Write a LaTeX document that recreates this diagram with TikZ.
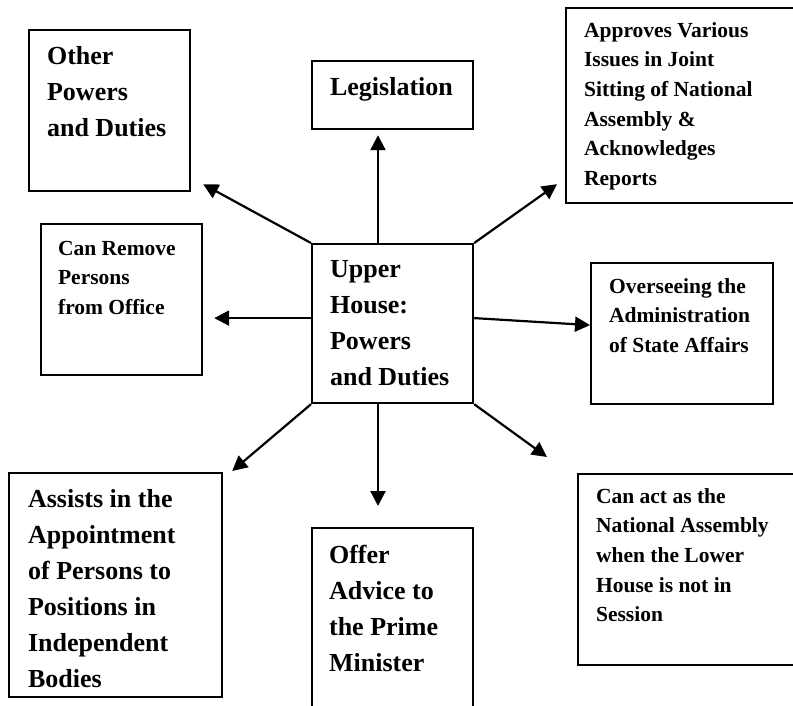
\documentclass[tikz,border=0pt]{standalone}
\usepackage{fontspec}
\setmainfont{Liberation Serif}
\usetikzlibrary{arrows.meta}
\newcommand{\bxtext}[6]{%
  \parbox[t][#2pt][t]{#1pt}{#5\raggedright\leftskip=#3pt\relax\rule{0pt}{#4pt}#6}}
\newcommand{\bigf}{\fontsize{26pt}{36pt}\selectfont\bfseries}
\newcommand{\smallf}{\fontsize{21.5pt}{29.7pt}\selectfont\bfseries}
\begin{document}
\begin{tikzpicture}[x=1pt,y=-1pt,
  box/.style={draw, line width=2.2pt, inner sep=0pt, anchor=north west},
  arr/.style={line width=2.2pt, -{Triangle[length=15pt,width=15pt]}}]
\useasboundingbox (0,0) rectangle (793,705);
\fill[white] (0,0) rectangle (793,705);
\clip (0,0) rectangle (793,705);

\node[box] (o) at (28,29) {\bxtext{161}{161}{18}{34}{\bigf}{Other\\Powers\\and Duties}};
\node[box] (leg) at (311,60) {\bxtext{161}{68}{18}{34}{\bigf}{Legislation}};
\node[box] (app) at (565,7) {\bxtext{240}{195}{18}{29}{\smallf}{Approves Various\\Issues in Joint\\Sitting of National\\Assembly \&\\Acknowledges\\Reports}};
\node[box] (cr) at (40,223) {\bxtext{161}{151}{17}{31}{\smallf}{Can Remove\\Persons\\from Office}};
\node[box] (up) at (311,243) {\bxtext{161}{159}{18}{33}{\bigf}{Upper\\House:\\Powers\\and Duties}};
\node[box] (ov) at (590,262) {\bxtext{182}{141}{18}{30}{\smallf}{Overseeing the\\Administration\\of State Affairs}};
\node[box] (as) at (8,472) {\bxtext{213}{224}{19}{34}{\bigf}{Assists in the\\Appointment\\of Persons to\\Positions in\\Independent\\Bodies}};
\node[box] (adv) at (311,527) {\bxtext{161}{200}{17}{35}{\bigf}{Offer\\Advice to\\the Prime\\Minister}};
\node[box] (ca) at (577,473) {\bxtext{240}{191}{18}{29}{\smallf}{Can act as the\\National Assembly\\when the Lower\\House is not in\\Session}};

\draw[arr] ([xshift=67pt]up.north west) -- ([xshift=67pt,yshift=-5pt]leg.south west);
\draw[arr] (up.north west) -- ([xshift=12pt,yshift=8pt]o.south east);
\draw[arr] (up.north east) -- ([xshift=-8pt,yshift=20pt]app.south west);
\draw[arr] ([yshift=5.5pt]up.west) -- ([xshift=11pt,yshift=-18.5pt]cr.east);
\draw[arr] ([yshift=5.5pt]up.east) -- ([yshift=8.5pt]ov.west);
\draw[arr] (up.south west) -- ([xshift=9pt,yshift=1pt]as.north east);
\draw[arr] ([xshift=67pt]up.south west) -- ([xshift=67pt,yshift=21pt]adv.north west);
\draw[arr] (up.south east) -- ([xshift=-30pt,yshift=16pt]ca.north west);
\end{tikzpicture}
\end{document}
